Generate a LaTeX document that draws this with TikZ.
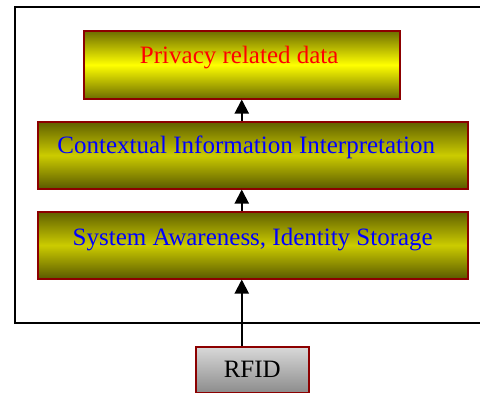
\documentclass[tikz,border=0pt]{standalone}
\usepackage{fontspec}
\setmainfont{Liberation Serif}
\usetikzlibrary{arrows.meta, positioning}

\begin{document}
\begin{tikzpicture}[
    x=1pt, y=-1pt,
    % Node styles
    layerbox/.style={
        rectangle,
        draw=red!55!black,
        line width=1.5pt,
        minimum width=430pt,
        minimum height=67pt,
        font=\fontsize{25}{29}\selectfont,
        text=blue,
        anchor=north west,
        inner sep=0pt
    },
    darkshade/.style={
        top color=olive!75!black,
        bottom color=olive!70!black,
        middle color=yellow!80!black
    },
    brightshade/.style={
        top color=olive!85!black,
        bottom color=olive!85!black,
        middle color=yellow
    },
    sourcebox/.style={
        rectangle,
        draw=red!55!black,
        line width=1.5pt,
        top color=gray!30,
        bottom color=gray!90,
        minimum width=113pt,
        minimum height=46pt,
        font=\fontsize{25}{29}\selectfont,
        anchor=north west,
        inner sep=0pt
    },
    framebox/.style={
        draw=black,
        line width=1.2pt
    },
    arrow/.style={
        -{Triangle[length=14pt, width=14pt]},
        line width=2pt,
        black
    }
]
\useasboundingbox (0,0) rectangle (480,392);

% === Outer frame ===
\draw[framebox] (15,7) -- (483,7) -- (483,323) -- (15,323) -- cycle;

% === Layers ===
\node[layerbox, brightshade, text=red, minimum width=316pt, minimum height=68pt]
    (privacy) at (83,30) {\raisebox{20pt}{Privacy related data}\kern5pt};
\node[layerbox, darkshade] (context) at (37,121) {\raisebox{21pt}{Contextual Information Interpretation}\kern13pt};
\node[layerbox, darkshade] (awareness) at (37,211) {\raisebox{16pt}{System Awareness, Identity Storage}};

% === Source ===
\node[sourcebox] (rfid) at (195,346) {RFID};

% === Arrows ===
\draw[arrow] (privacy.south |- awareness.north) -- (privacy.south |- context.south);
\draw[arrow] (privacy.south |- context.north) -- (privacy.south);
\draw[arrow] (privacy.south |- rfid.north) -- (privacy.south |- awareness.south);

\end{tikzpicture}
\end{document}
